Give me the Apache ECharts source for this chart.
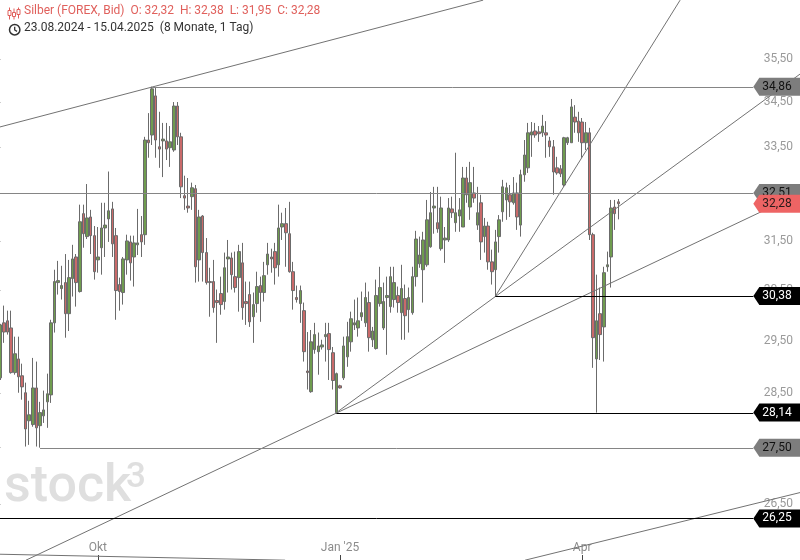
<!DOCTYPE html>
<html><head><meta charset="utf-8">
<script src="https://cdn.jsdelivr.net/npm/echarts@6/dist/echarts.min.js"></script>
<style>html,body{margin:0;padding:0;background:#fff}#c{width:800px;height:560px}</style>
</head><body><div id="c"></div>
<script>
// ---- candle values (Silber, FOREX, Bid), in price units ----
const opens = [28.79,29.85,29.89,29.75,28.89,29.15,28.83,28.51,27.99,27.92,
28.60,27.90,28.08,28.34,28.47,29.85,30.65,30.53,30.65,30.03,
30.73,31.17,30.47,32.07,31.59,32.00,31.61,31.11,31.36,31.77,
31.96,32.17,31.61,30.61,30.45,31.11,31.48,31.17,31.42,31.63,31.63,
33.66,33.77,34.65,33.51,33.64,33.64,33.49,33.44,34.42,33.73,
32.45,32.23,32.43,32.60,31.11,32.02,31.26,30.67,30.67,30.29,
30.43,30.27,31.13,31.15,30.77,30.75,31.05,30.27,30.41,29.97,
30.23,30.59,30.45,31.01,31.17,31.28,31.01,31.79,31.86,31.65,
30.87,30.35,30.23,30.09,28.92,
28.53,29.33,29.29,29.38,29.58,29.64,29.27,28.14,28.64,28.79,
29.19,29.48,29.81,29.75,29.97,29.85,30.25,29.52,29.35,30.23,
29.75,30.35,30.17,30.31,30.39,30.05,30.33,30.11,30.05,30.77,
31.03,30.91,31.01,31.38,32.19,31.88,31.34,31.52,31.52,32.17,
31.88,32.02,31.79,32.83,
32.21,32.51,31.83,32.30,31.59,31.81,31.07,30.91,31.59,32.11,
32.36,32.47,32.30,32.51,31.83,32.90,33.05,33.77,33.86,33.84,
33.82,33.82,33.64,33.51,33.05,33.03,32.68,33.60,33.60,34.17,
34.08,34.06,33.60,33.82,31.63,29.15,30.03,29.77,30.97,31.17,32.21,32.32];
const closes = [29.81,29.67,29.67,28.89,29.25,28.81,28.62,27.84,28.10,28.60,
27.86,28.14,28.19,28.49,29.85,30.67,30.69,30.59,30.03,30.75,
31.13,30.65,31.90,31.65,31.98,31.61,30.87,31.17,31.77,31.83,
32.13,31.44,30.49,30.47,31.13,31.50,31.05,31.46,31.46,31.48,33.66,
33.60,34.81,33.66,33.46,33.68,33.46,33.62,34.42,33.73,32.64,
32.40,32.19,32.62,30.97,32.00,31.26,30.65,30.65,30.15,30.25,
30.21,30.95,31.17,30.81,30.55,31.28,30.15,30.23,29.87,30.21,
30.57,30.45,30.79,31.23,31.13,30.95,31.77,31.86,31.67,30.87,
30.49,30.31,30.49,29.29,28.89,
29.48,29.62,29.40,29.42,29.62,29.33,28.74,28.87,28.60,29.40,
29.58,29.93,29.85,29.89,30.05,30.35,29.56,29.69,30.39,30.55,
30.27,30.39,30.77,30.65,30.25,30.53,29.99,30.35,30.77,31.54,
31.21,31.52,31.94,32.09,32.23,31.75,32.19,31.56,32.19,32.09,
32.09,32.15,32.83,32.47,
32.73,32.40,32.09,31.48,31.81,31.07,30.87,31.48,31.94,32.64,
32.62,32.32,32.51,32.00,32.90,33.33,33.82,33.84,33.77,33.80,
33.97,33.77,33.51,32.96,32.94,32.92,33.71,33.71,34.40,34.06,
33.82,33.60,33.82,31.63,29.56,29.89,29.62,30.85,31.01,32.19,32.07,32.28];
const lows = [28.75,29.46,29.62,28.87,28.85,28.51,28.38,27.52,27.55,27.88,
27.52,27.50,27.95,27.86,28.32,29.66,30.41,30.31,29.56,29.69,
30.37,30.17,30.45,31.36,31.54,31.23,30.71,30.85,30.81,31.17,
31.48,31.17,29.91,30.09,30.21,30.81,30.69,30.57,31.21,31.17,31.42,
33.27,33.55,33.27,33.05,32.85,33.22,33.07,33.40,33.55,32.40,
32.15,32.09,32.15,30.65,30.67,30.67,30.61,29.97,30.05,29.46,
30.01,30.11,30.45,30.51,30.45,30.07,29.91,29.81,29.77,29.46,
30.05,29.87,30.27,30.81,30.85,30.61,30.77,31.52,30.97,30.85,
30.11,30.25,29.85,29.10,28.57,
28.51,29.25,28.85,29.33,29.10,28.75,28.57,28.14,28.59,28.75,
29.00,29.29,29.71,29.58,29.89,29.77,29.29,29.38,29.33,30.17,
29.71,29.23,30.05,30.15,30.05,29.52,29.52,29.66,30.01,30.57,
30.95,30.25,30.97,31.36,31.65,31.67,31.30,31.05,31.48,31.98,
31.69,31.69,31.79,32.30,
31.94,32.30,31.73,31.11,31.26,30.91,30.61,30.38,31.26,31.90,
31.94,32.00,32.26,31.73,31.59,32.75,32.94,33.29,33.71,33.62,
33.73,33.27,33.29,32.47,32.90,32.85,32.64,33.55,33.60,33.82,
33.62,33.27,33.44,31.52,28.98,28.14,29.13,29.10,30.87,30.55,31.73,31.95];
const highs = [29.83,30.19,30.09,30.09,29.58,29.58,29.06,28.70,28.36,29.17,
29.10,28.34,28.55,28.87,29.91,30.91,31.09,30.99,31.23,31.11,
31.42,31.23,32.26,32.26,32.70,32.15,31.81,31.79,32.30,32.30,
32.97,32.32,31.77,30.75,31.17,31.63,31.61,31.61,32.17,32.02,33.73,
34.26,34.86,34.84,34.29,34.04,34.04,33.97,34.51,34.51,33.82,
32.88,32.83,32.73,32.68,32.15,32.04,31.56,30.95,31.11,30.51,
30.77,31.26,31.52,31.26,31.28,31.42,31.46,30.67,30.67,30.45,
30.87,30.77,31.07,31.46,31.34,31.46,32.26,32.09,32.19,32.32,
31.07,30.59,30.59,30.25,29.67,
29.71,29.85,29.66,29.52,29.85,29.85,29.38,28.89,28.66,29.58,
29.87,30.07,30.31,30.35,30.47,30.65,30.47,29.77,30.71,30.97,
30.65,30.77,30.97,30.97,30.57,31.01,30.61,30.55,30.97,31.71,
31.59,31.69,32.36,32.53,32.64,32.64,32.43,31.79,32.40,32.43,
33.38,32.40,33.07,33.07,
33.18,33.07,32.64,32.47,31.98,31.90,31.32,31.73,32.04,32.79,
32.73,32.68,32.85,32.73,33.01,33.66,34.04,34.06,34.04,33.97,
34.22,34.08,33.73,33.66,33.29,33.11,33.73,33.73,34.58,34.44,
34.29,34.15,34.06,33.93,31.67,30.81,30.55,30.97,31.28,32.36,32.36,32.38];

// ---- axis ticks ----
const yTickValues = [26.5, 27.5, 28.5, 29.5, 30.5, 31.5, 32.5, 33.5, 34.5, 35.5];
const monthTickIndex = [27, 94, 161];
const monthTickLabel = ['Okt', "Jan '25", 'Apr'];

// ---- horizontal levels (start candle index, price, kind 0=grey 1=black) ----
const levelValues = [34.86, 32.51, 30.38, 28.14, 27.50, 26.25];
const levelStart  = [42, -1, 137, 93, 11, -1];
const levelKind   = [0, 0, 1, 1, 0, 1];

// ---- trend lines: [candle index, price] end points ----
const trendLines = [
  [[-0.08, 33.95], [133.6, 36.90]],
  [[145.2, 25.54], [221.27, 26.70]],
  [[-0.08, 25.64], [78.8, 25.54]],
  [[7.1, 25.54], [221.27, 32.50]],
  [[93, 28.14], [221.27, 35.15]],
  [[137, 30.38], [188.1, 36.90]]
];

const header = {name: 'Silber (FOREX, Bid)', range: '23.08.2024 - 15.04.2025', span: '(8 Monate, 1 Tag)'};

const L = Math.log;
const X_MIN = -0.083, X_MAX = 221.27;
const Y_MIN = 3.240361, Y_MAX = 3.608298;
const LEVEL_END = 208.36;
const FONT = 'Roboto, Arial, sans-serif';
const f2 = v => v.toFixed(2).replace('.', ',');
const fmtLn = v => f2(Math.exp(v));

const candleData = opens.map((o, i) => [i, L(o), L(closes[i]), L(lows[i]), L(highs[i])]);
const n = opens.length;
const levelData = levelValues.map((v, k) => [levelStart[k] < 0 ? X_MIN : levelStart[k], L(v), levelKind[k]]);
levelData.push([LEVEL_END, L(closes[n - 1]), 2]);

const BADGE = [
  {line: '#858585', fill: '#7d7d7d', text: '#111'},
  {line: '#000000', fill: '#000000', text: '#ffffff'},
  {line: '#ee6464', fill: '#ee6464', text: '#2a1a1a'}
];

const chart = echarts.init(document.getElementById('c'), null, {renderer: 'canvas'});
const series = [{
  type: 'candlestick',
  data: candleData,
  barWidth: 3,
  z: 2,
  itemStyle: {color: '#6f9c4f', color0: '#c96a6a', borderColor: '#6b6b6b', borderColor0: '#6b6b6b', borderWidth: 1}
}];
trendLines.forEach(tl => series.push({
  type: 'line', data: tl.map(p => [p[0], L(p[1])]), symbol: 'none', silent: true, z: 3,
  lineStyle: {color: '#727272', width: 1}
}));
series.push({
  type: 'custom', data: levelData, z: 5, silent: true, clip: false,
  encode: {x: 0, y: 1},
  renderItem: (params, api) => {
    const start = api.value(0), v = api.value(1), kind = api.value(2);
    const st = BADGE[kind];
    const p1 = api.coord([LEVEL_END, v]);
    const yc = p1[1];
    const tip = p1[0];
    const W = api.getWidth();
    const children = [];
    if (kind !== 2) {
      const p0 = api.coord([start, v]);
      const yl = Math.round(yc) + 0.5;
      children.push({type: 'line', shape: {x1: p0[0], y1: yl, x2: tip, y2: yl}, style: {stroke: st.line, lineWidth: 1}});
    }
    children.push({type: 'polygon', shape: {points: [[tip, yc], [tip + 6, yc - 9], [W, yc - 9], [W, yc + 9], [tip + 6, yc + 9]]}, style: {fill: st.fill}});
    children.push({type: 'text', x: tip + 9, y: yc, style: {text: fmtLn(v), fill: st.text, font: '12px ' + FONT, verticalAlign: 'middle', align: 'left'}});
    return {type: 'group', children};
  }
});

const last = n - 1;
const ohlc = 'O: ' + f2(opens[last]) + '  H: ' + f2(highs[last]) + '  L: ' + f2(lows[last]) + '  C: ' + f2(closes[last]);

chart.setOption({
  animation: false,
  backgroundColor: '#ffffff',
  textStyle: {fontFamily: FONT},
  grid: {left: 0, right: 0, top: 0, bottom: 0},
  xAxis: {
    type: 'value', min: X_MIN, max: X_MAX,
    splitLine: {show: false}, axisLine: {show: false},
    axisTick: {show: true, inside: true, length: 5, customValues: monthTickIndex, lineStyle: {color: '#444'}},
    axisLabel: {show: true, inside: true, margin: 6, customValues: monthTickIndex, color: '#8c8c8c', fontSize: 12,
      formatter: v => monthTickLabel[monthTickIndex.indexOf(Math.round(v))] || ''}
  },
  yAxis: {
    type: 'value', position: 'right', min: Y_MIN, max: Y_MAX,
    splitLine: {show: false}, axisLine: {show: false},
    axisTick: {show: true, inside: true, length: 3, customValues: yTickValues.map(L), lineStyle: {color: '#555'}},
    axisLabel: {show: true, inside: true, margin: 7, customValues: yTickValues.map(L), color: '#9a9a9a', fontSize: 12, formatter: fmtLn}
  },
  graphic: [
    {type: 'text', left: 4, top: 462, z: 0, style: {text: 'stock', fill: '#dfdfdf', font: '500 52px ' + FONT}},
    {type: 'text', left: 126, top: 461, z: 0, style: {text: '3', fill: '#dfdfdf', font: '500 35px ' + FONT}},
    {type: 'group', left: 7, top: 5, z: 10, children: [
      {type: 'line', shape: {x1: 2, y1: 0, x2: 2, y2: 12}, style: {stroke: '#e0605c', lineWidth: 1}},
      {type: 'rect', shape: {x: 0.5, y: 3, width: 3, height: 5}, style: {fill: '#fff', stroke: '#e0605c', lineWidth: 1}},
      {type: 'line', shape: {x1: 6.5, y1: 1, x2: 6.5, y2: 12}, style: {stroke: '#e0605c', lineWidth: 1}},
      {type: 'rect', shape: {x: 5, y: 5, width: 3, height: 4}, style: {fill: '#fff', stroke: '#e0605c', lineWidth: 1}},
      {type: 'line', shape: {x1: 11, y1: 0, x2: 11, y2: 11}, style: {stroke: '#e0605c', lineWidth: 1}},
      {type: 'rect', shape: {x: 9.5, y: 2, width: 3, height: 5}, style: {fill: '#fff', stroke: '#e0605c', lineWidth: 1}}
    ]},
    {type: 'text', left: 24, top: 5, z: 10, style: {text: header.name + '  ' + ohlc, fill: '#e0605c', font: '12px ' + FONT}},
    {type: 'group', left: 7, top: 22, z: 10, children: [
      {type: 'circle', shape: {cx: 6, cy: 6.5, r: 5.2}, style: {fill: 'none', stroke: '#333', lineWidth: 1.5}},
      {type: 'polyline', shape: {points: [[6, 3.5], [6, 6.8], [8.3, 8.2]]}, style: {fill: 'none', stroke: '#333', lineWidth: 1.3}}
    ]},
    {type: 'text', left: 24, top: 22, z: 10, style: {text: header.range + '  ' + header.span, fill: '#333', font: '12px ' + FONT}}
  ],
  series
});
</script>
</body></html>
